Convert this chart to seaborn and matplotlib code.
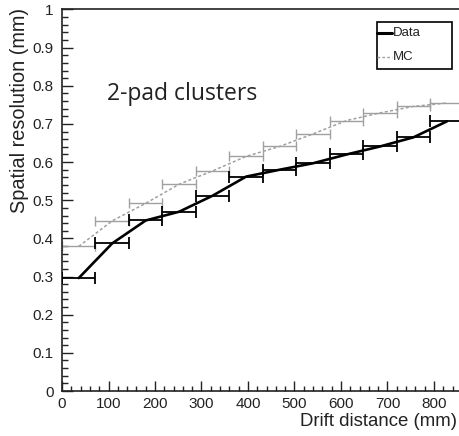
import matplotlib
matplotlib.use("Agg")
import matplotlib.pyplot as plt
import seaborn as sns
import numpy as np
import pandas as pd
from matplotlib.lines import Line2D
from matplotlib.patches import Rectangle
from matplotlib.ticker import MultipleLocator, FuncFormatter

# ---- data ----
drift_centers = [36, 108, 180, 252, 324, 396, 468, 540, 612, 684, 756, 828]
bin_halfwidth = 36
data_res = [0.296, 0.387, 0.447, 0.470, 0.512, 0.562, 0.580, 0.597, 0.620, 0.641, 0.665, 0.707]
mc_res = [0.379, 0.446, 0.492, 0.542, 0.577, 0.615, 0.641, 0.674, 0.709, 0.729, 0.746, 0.755]
series_names = ['Data', 'MC']

sns.set_style("ticks")
plt.rcParams['font.family'] = ['Liberation Sans', 'DejaVu Sans']

W, H = 459, 436
fig = plt.figure(figsize=(W/100, H/100), dpi=100)
ax = fig.add_axes([62/W, 45/H, 418.5/W, 381.5/H])

df_data = pd.DataFrame({'x': drift_centers, 'y': data_res})
df_mc = pd.DataFrame({'x': drift_centers, 'y': mc_res})

mc_col = '#a0a0a0'
txt_col = '#222222'
mc_style = (0, (2, 1.5))
# MC
ax.errorbar(drift_centers, mc_res, xerr=bin_halfwidth, fmt='none', ecolor=mc_col,
            elinewidth=1.0, capsize=3.5, capthick=1.0, zorder=2)
sns.lineplot(data=df_mc, x='x', y='y', ax=ax, color=mc_col, linewidth=1.1,
             linestyle=mc_style, zorder=3)
# Data
ax.errorbar(drift_centers, data_res, xerr=bin_halfwidth, fmt='none', ecolor='black',
            elinewidth=1.3, capsize=4, capthick=1.3, zorder=4)
sns.lineplot(data=df_data, x='x', y='y', ax=ax, color='black', linewidth=1.9, zorder=5)

ax.set_xlim(0, 900)
ax.set_ylim(0, 1)
ax.xaxis.set_major_locator(MultipleLocator(100))
ax.xaxis.set_minor_locator(MultipleLocator(20))
ax.yaxis.set_major_locator(MultipleLocator(0.1))
ax.yaxis.set_minor_locator(MultipleLocator(0.02))
ax.yaxis.set_major_formatter(FuncFormatter(lambda v, p: '%g' % round(v, 2)))
ax.xaxis.set_major_formatter(FuncFormatter(lambda v, p: '%d' % v if v < 850 else ''))

ax.tick_params(axis='both', which='both', direction='in', top=False, right=False,
               colors=txt_col, labelsize=11, width=1.0)
ax.tick_params(axis='y', which='major', length=8, pad=6)
ax.tick_params(axis='y', which='minor', length=4)
ax.tick_params(axis='x', which='major', length=7, pad=4)
ax.tick_params(axis='x', which='minor', length=3.5)
for s in ax.spines.values():
    s.set_linewidth(1.2)
    s.set_color(txt_col)

ax.set_xlabel('')
ax.set_ylabel('')

fig.text(20/W, 1 - 8/H, 'Spatial resolution (mm)', rotation=90, ha='center', va='top',
         fontsize=14.3, color=txt_col)
fig.text(457/W, 1 - 421/H, 'Drift distance (mm)', ha='right', va='center',
         fontsize=13.4, color=txt_col)

fig.text(107/W, 1 - 94/H, '2-pad clusters', ha='left', va='center',
         fontsize=16.5, color=txt_col, family=['Open Sans', 'DejaVu Sans'])

# legend box (ROOT style, fixed size)
fig.patches.append(Rectangle((377/W, 1 - 69/H), 75/W, 47/H, transform=fig.transFigure,
                             facecolor='white', edgecolor='black', linewidth=1.2, zorder=10))
fig.lines.append(Line2D([377/W, 392/W], [1 - 33/H, 1 - 33/H], transform=fig.transFigure,
                        color='black', linewidth=2.2, zorder=11))
fig.lines.append(Line2D([377/W, 392/W], [1 - 57/H, 1 - 57/H], transform=fig.transFigure,
                        color=mc_col, linewidth=1.0, linestyle=mc_style, zorder=11))
fig.text(393/W, 1 - 33/H, series_names[0], ha='left', va='center', fontsize=9.5,
         color=txt_col, zorder=12)
fig.text(393/W, 1 - 57/H, series_names[1], ha='left', va='center', fontsize=9.5,
         color=txt_col, zorder=12)

fig.savefig('out.png', dpi=100)
